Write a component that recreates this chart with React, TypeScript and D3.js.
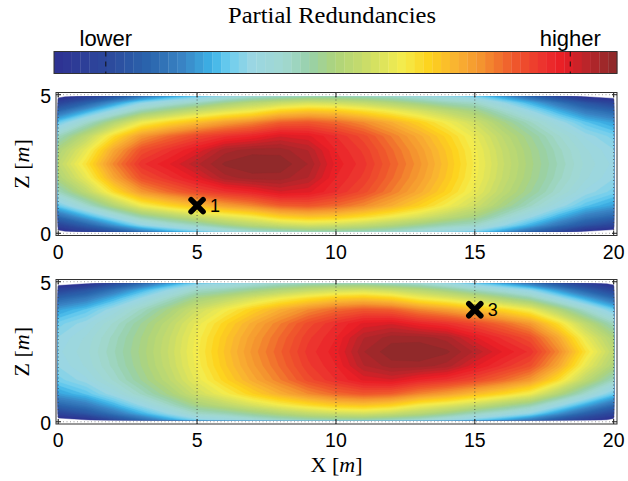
import React, { useRef, useEffect } from "react";
import * as d3 from "d3";

// sample positions of the redundancy grid, metres
const xSamples = d3.range(0, 21);
const zSamples = [0.07, 0.3, 0.6, 1.0, 1.5, 2.0, 2.5, 3.0, 3.5, 4.0, 4.4, 4.7, 4.93];

// upper panel (0 = lower ... 1 = higher), one value per xSample
// the field is symmetric about z = 2.5, so only the lower half is listed
const rowZ007 = [-0.02, 0.06, 0.13, 0.21, 0.27, 0.32, 0.37, 0.41, 0.43, 0.45, 0.45, 0.44, 0.42, 0.39, 0.36, 0.33, 0.26, 0.18, 0.10, 0.00, -0.03];
const rowZ03 = [0.08, 0.16, 0.25, 0.34, 0.39, 0.43, 0.48, 0.52, 0.55, 0.57, 0.56, 0.54, 0.51, 0.475, 0.44, 0.42, 0.35, 0.28, 0.20, 0.13, 0.08];
const rowZ06 = [0.18, 0.27, 0.36, 0.45, 0.50, 0.55, 0.59, 0.62, 0.67, 0.69, 0.68, 0.65, 0.615, 0.575, 0.53, 0.49, 0.42, 0.35, 0.28, 0.21, 0.17];
const rowZ10 = [0.31, 0.41, 0.51, 0.61, 0.66, 0.70, 0.74, 0.77, 0.81, 0.82, 0.80, 0.765, 0.72, 0.67, 0.615, 0.56, 0.49, 0.425, 0.36, 0.30, 0.26];
const rowZ15 = [0.43, 0.53, 0.65, 0.75, 0.80, 0.84, 0.87, 0.89, 0.92, 0.91, 0.875, 0.835, 0.78, 0.725, 0.665, 0.60, 0.53, 0.47, 0.41, 0.355, 0.32];
const rowZ20 = [0.50, 0.60, 0.73, 0.83, 0.87, 0.91, 0.962, 0.977, 0.977, 0.952, 0.89, 0.855, 0.80, 0.745, 0.683, 0.615, 0.545, 0.485, 0.428, 0.378, 0.345];
const rowZ25 = [0.53, 0.64, 0.77, 0.87, 0.905, 0.95, 0.988, 1.0, 0.996, 0.968, 0.90, 0.865, 0.81, 0.755, 0.69, 0.62, 0.55, 0.49, 0.435, 0.385, 0.355];

const lowerHalf = [rowZ007, rowZ03, rowZ06, rowZ10, rowZ15, rowZ20];
const topGrid = [...lowerHalf, rowZ25, ...lowerHalf.slice().reverse()];
// lower panel: same field mirrored in X (centre at 20 - 7.3)
const bottomGrid = topGrid.map(r => r.slice().reverse());

const xTicks = [0, 5, 10, 15, 20];
const zTicks = [0, 5];
const topMarkers = [{ x: 5, z: 1, label: "1" }];
const bottomMarkers = [{ x: 15, z: 4, label: "3" }];

// colour map of the colour bar (64 steps)
const cmapStops = [0, 0.1, 0.17, 0.23, 0.28, 0.31, 0.35, 0.41, 0.455, 0.5, 0.55, 0.62, 0.667, 0.715, 0.757, 0.815, 0.875, 0.905, 0.94, 1];
const cmapColors = ["#2e3192", "#2c4a9d", "#2a65ad", "#3a85c5", "#3cb2e6", "#6bcdef", "#9ad6e3", "#a1d8d0", "#98d0a8", "#aed47a",
  "#c8dc6a", "#f5ec4c", "#fdd21c", "#f9b232", "#f4952f", "#ef5a2c", "#ec2e2e", "#ea1c24", "#c0242a", "#8a2a2a"];
const nLevels = 64;
const cbTicks = [{ value: 0.092, label: "lower" }, { value: 0.917, label: "higher" }];

const W = 628, H = 481;

function samplePos(arr: number[], c: number) {
  const t = Math.max(0, Math.min(arr.length - 1, c - 0.5));
  const i = Math.min(arr.length - 2, Math.floor(t));
  return arr[i] + (t - i) * (arr[i + 1] - arr[i]);
}

const App = () => {
  const plot = useRef<SVGSVGElement>(null);

  useEffect(() => {
    const svg = d3.select(plot.current);
    svg.selectAll("*").remove();

    const cmap = d3.scaleLinear<string>().domain(cmapStops).range(cmapColors).interpolate(d3.interpolateRgb);
    const levels = d3.range(nLevels).map(i => i / nLevels);
    const bandColor = (i: number) => cmap((i + 0.5) / nLevels);

    const x = d3.scaleLinear().domain([-0.08, 20.12]).range([56, 617]);

    // title + colour bar
    svg.append("text")
      .attr("x", 332).attr("y", 23)
      .attr("text-anchor", "middle")
      .attr("font-family", "Liberation Serif")
      .attr("font-size", 22.5)
      .attr("textLength", 208)
      .attr("lengthAdjust", "spacingAndGlyphs")
      .text("Partial Redundancies");

    const cb = d3.scaleLinear().domain([0, 1]).range([54, 617]);
    const cbTop = 51.5, cbH = 22;
    svg.append("g").selectAll("rect")
      .data(levels)
      .join("rect")
      .attr("x", d => cb(d))
      .attr("y", cbTop)
      .attr("width", cb(1 / nLevels) - cb(0) + 0.3)
      .attr("height", cbH)
      .attr("fill", (d, i) => bandColor(i));
    svg.append("rect")
      .attr("x", cb(0)).attr("y", cbTop)
      .attr("width", cb(1) - cb(0)).attr("height", cbH)
      .attr("fill", "none").attr("stroke", "#333").attr("stroke-width", 1);
    const cbt = svg.append("g").selectAll("g").data(cbTicks).join("g");
    cbt.append("line")
      .attr("x1", d => cb(d.value)).attr("x2", d => cb(d.value))
      .attr("y1", cbTop).attr("y2", cbTop + cbH)
      .attr("stroke", "#111").attr("stroke-width", 1)
      .attr("stroke-dasharray", "5,5");
    cbt.append("text")
      .attr("x", d => cb(d.value)).attr("y", 46)
      .attr("text-anchor", "middle")
      .attr("font-family", "Liberation Sans")
      .attr("font-size", 22)
      .text(d => d.label);

    const drawPanel = (grid: number[][], top: number, bottom: number, markers: { x: number, z: number, label: string }[], showXLabel: boolean) => {
      const z = d3.scaleLinear().domain([-0.08, 5.08]).range([bottom, top]);
      const g = svg.append("g");
      const x0 = x.range()[0], x1 = x.range()[1];

      g.append("rect").attr("x", x0).attr("y", top).attr("width", x1 - x0).attr("height", bottom - top).attr("fill", "#fff");

      const values = grid.flat();
      const contours = d3.contours().size([xSamples.length, zSamples.length]).thresholds(levels)(values);
      const pathOf = (c: d3.ContourMultiPolygon) => c.coordinates.map(poly => poly.map(ring =>
        ring.map(([cx, cy], k) => (k ? "L" : "M") + x(samplePos(xSamples, cx)).toFixed(2) + "," + z(samplePos(zSamples, cy)).toFixed(2)).join("") + "Z"
      ).join("")).join("");

      g.append("g").selectAll("path")
        .data(contours)
        .join("path")
        .attr("d", d => pathOf(d))
        .attr("fill-rule", "evenodd")
        .attr("fill", (d, i) => bandColor(i))
        .attr("stroke", (d, i) => bandColor(i))
        .attr("stroke-width", 0.4);

      // dotted grid
      g.append("g").selectAll("line")
        .data(xTicks)
        .join("line")
        .attr("x1", d => x(d)).attr("x2", d => x(d))
        .attr("y1", top).attr("y2", bottom)
        .attr("stroke", "#444").attr("stroke-width", 0.8)
        .attr("stroke-dasharray", "1,2.5");
      g.append("g").selectAll("line")
        .data(zTicks)
        .join("line")
        .attr("x1", x0).attr("x2", x1)
        .attr("y1", d => z(d)).attr("y2", d => z(d))
        .attr("stroke", "#888").attr("stroke-width", 0.8)
        .attr("stroke-dasharray", "1,2.5");

      // inward ticks
      const tk = 5;
      g.append("g").selectAll("path")
        .data(xTicks)
        .join("path")
        .attr("d", d => `M${x(d)},${bottom}v${-tk}M${x(d)},${top}v${tk}`)
        .attr("stroke", "#222").attr("stroke-width", 1);
      g.append("g").selectAll("path")
        .data(zTicks)
        .join("path")
        .attr("d", d => `M${x0},${z(d)}h${tk}M${x1},${z(d)}h${-tk}`)
        .attr("stroke", "#222").attr("stroke-width", 1);

      g.append("rect").attr("x", x0).attr("y", top).attr("width", x1 - x0).attr("height", bottom - top)
        .attr("fill", "none").attr("stroke", "#333").attr("stroke-width", 1);

      // tick labels
      g.append("g").selectAll("text")
        .data(xTicks)
        .join("text")
        .attr("x", d => x(d)).attr("y", bottom + 23)
        .attr("text-anchor", "middle")
        .attr("font-family", "Liberation Sans").attr("font-size", 19.5)
        .text(d => d);
      g.append("g").selectAll("text")
        .data(zTicks)
        .join("text")
        .attr("x", x0 - 5).attr("y", d => z(d) + 8)
        .attr("text-anchor", "end")
        .attr("font-family", "Liberation Sans").attr("font-size", 19.5)
        .text(d => d);

      // axis labels
      const zl = g.append("text")
        .attr("transform", `translate(29,${(top + bottom) / 2}) rotate(-90)`)
        .attr("text-anchor", "middle")
        .attr("font-family", "Liberation Serif").attr("font-size", 22);
      zl.append("tspan").text("Z [");
      zl.append("tspan").attr("font-style", "italic").text("m");
      zl.append("tspan").text("]");
      if (showXLabel) {
        const xl = g.append("text")
          .attr("x", (x0 + x1) / 2).attr("y", 472)
          .attr("text-anchor", "middle")
          .attr("font-family", "Liberation Serif").attr("font-size", 22);
        xl.append("tspan").text("X [");
        xl.append("tspan").attr("font-style", "italic").text("m");
        xl.append("tspan").text("]");
      }

      // markers
      const mk = g.append("g").selectAll("g").data(markers).join("g")
        .attr("transform", d => `translate(${x(d.x)},${z(d.z)})`);
      mk.append("path")
        .attr("d", "M-6,-6L6,6M-6,6L6,-6")
        .attr("stroke", "#000").attr("stroke-width", 5.5)
        .attr("stroke-linecap", "round");
      mk.append("text")
        .attr("x", 13).attr("y", 6.5)
        .attr("font-family", "Liberation Sans").attr("font-size", 18)
        .text(d => d.label);
    };

    drawPanel(topGrid, 92.5, 235.5, topMarkers, false);
    drawPanel(bottomGrid, 279.5, 424, bottomMarkers, true);
  }, []);

  return (
    <svg ref={plot} width={W} height={H} style={{ position: "absolute", left: 0, top: 0, background: "#fff" }} />
  );
};

export default App;
